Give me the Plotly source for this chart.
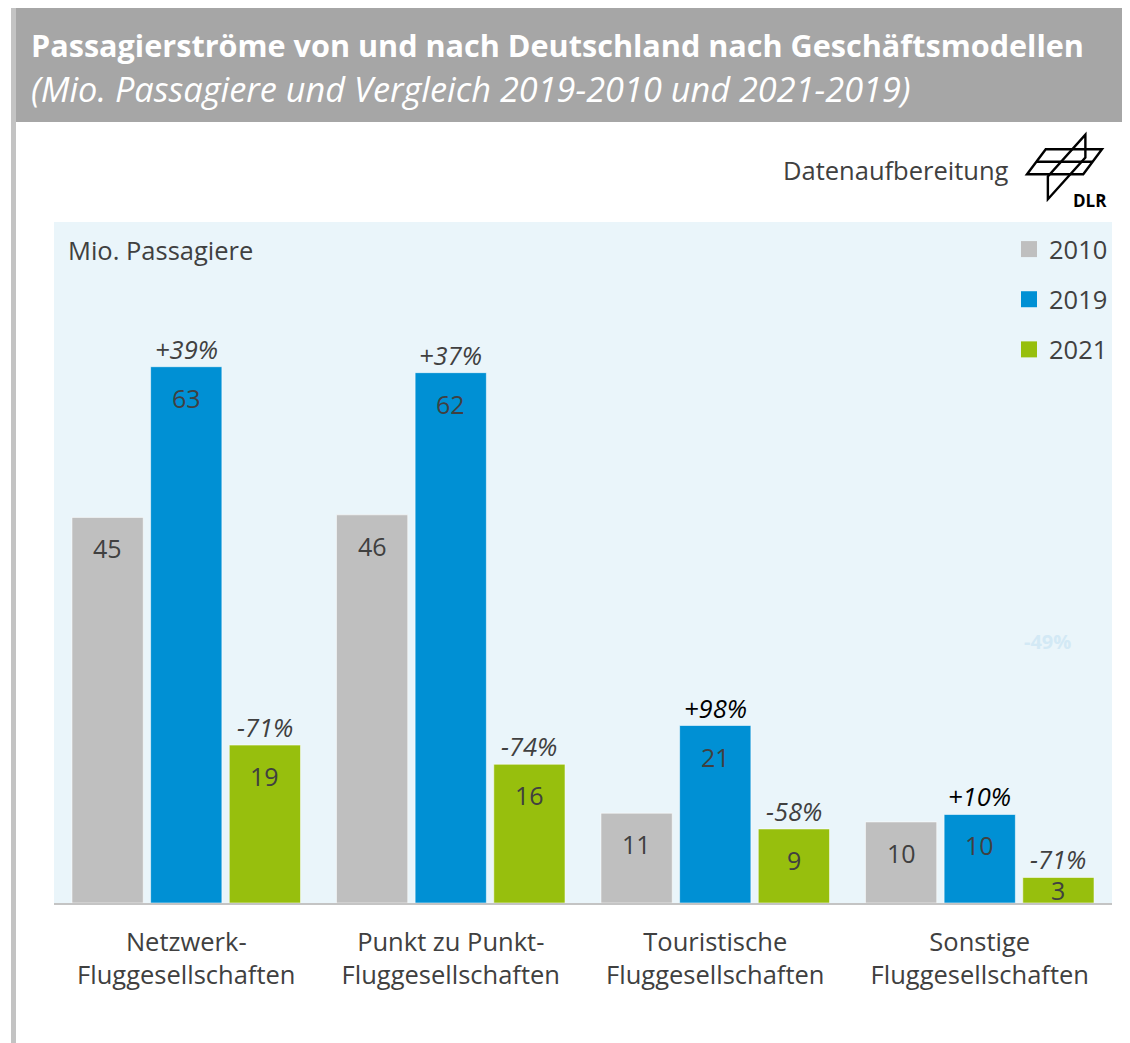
import plotly.graph_objects as go

# ---------------- data ----------------
categories = [
    "Netzwerk-<br>Fluggesellschaften",
    "Punkt zu Punkt-<br>Fluggesellschaften",
    "Touristische<br>Fluggesellschaften",
    "Sonstige<br>Fluggesellschaften",
]
years = ["2010", "2019", "2021"]
values_2010 = [45.3, 45.6, 10.55, 9.52]
values_2019 = [63.0, 62.3, 20.85, 10.4]
values_2021 = [18.55, 16.3, 8.7, 3.0]
change_2019_vs_2010 = ["+39%", "+37%", "+98%", "+10%"]
change_2021_vs_2019 = ["-71%", "-74%", "-58%", "-71%"]
faint_label = "-49%"

# ---------------- style ----------------
# the page body has an 8px margin, so the figure starts at screen (8, 8)
OFF = 8
W, H = 1130 - OFF, 1043 - OFF
FONT = "Open Sans, Lato, DejaVu Sans, sans-serif"
TXT = "#404040"
bar_colors = ["#bfbfbf", "#0090d4", "#97bf0d"]
pct_colors_2019 = ["#404040", "#404040", "#000000", "#000000"]
pct_colors_2021 = ["#404040", "#404040", "#404040", "#404040"]

PLOT_L, PLOT_R, PLOT_T, PLOT_B = 54, 1112, 222, 903   # screen pixels
Y_MAX = 80.0
BARGAP, BARGROUPGAP = 0.108, 0.094


def PX(x):
    return (x - OFF) / W


def PY(y):
    return 1 - (y - OFF) / H


series = [values_2010, values_2019, values_2021]

fig = go.Figure()
for yr, vals, col in zip(years, series, bar_colors):
    fig.add_trace(go.Bar(
        name=yr, x=categories, y=vals,
        marker=dict(color=col, line=dict(color="rgba(255,255,255,0.55)", width=1)),
        legendgroup=yr, showlegend=False, hoverinfo="x+y",
    ))
# legend entries (square swatches) for the three series
for yr, col in zip(years, bar_colors):
    fig.add_trace(go.Scatter(
        name=yr, x=[None], y=[None], mode="markers",
        marker=dict(symbol="square", size=17, color=col),
        legendgroup=yr, showlegend=True, hoverinfo="skip",
    ))

# pixel geometry derived from the axis settings
cat_w = (PLOT_R - PLOT_L) / len(categories)
slot = cat_w * (1 - BARGAP) / len(years)
px_per_unit = (PLOT_B - PLOT_T) / Y_MAX

annotations = []
for j, vals in enumerate(series):
    for i, v in enumerate(vals):
        h = v * px_per_unit
        annotations.append(dict(
            x=categories[i], y=v, xref="x", yref="y",
            xshift=(j - 1) * slot, yshift=-min(31, 0.5 * h),
            text=f"{v:.0f}", showarrow=False, yanchor="middle",
            font=dict(family=FONT, size=25, color=TXT),
        ))
for j, (vals, labels, cols) in enumerate([(values_2019, change_2019_vs_2010, pct_colors_2019),
                                          (values_2021, change_2021_vs_2019, pct_colors_2021)], start=1):
    for i, v in enumerate(vals):
        annotations.append(dict(
            x=categories[i], y=v, xref="x", yref="y",
            xshift=(j - 1) * slot, yshift=18,
            text=labels[i], showarrow=False, yanchor="middle",
            font=dict(family=FONT, size=25.5, color=cols[i], style="italic"),
        ))

# header texts
annotations += [
    dict(x=PX(29), y=PY(45), xref="paper", yref="paper", xanchor="left", yanchor="middle",
         text="<b>Passagierströme von und nach Deutschland nach Geschäftsmodellen</b>",
         showarrow=False, font=dict(family=FONT, size=30.6, color="white")),
    dict(x=PX(29), y=PY(88), xref="paper", yref="paper", xanchor="left", yanchor="middle",
         text="<i>(Mio. Passagiere und Vergleich 2019-2010 und 2021-2019)</i>",
         showarrow=False, font=dict(family=FONT, size=34.3, color="white")),
    dict(x=PX(1011), y=PY(170), xref="paper", yref="paper", xanchor="right", yanchor="middle",
         text="Datenaufbereitung", showarrow=False, font=dict(family=FONT, size=25.5, color=TXT)),
    dict(x=PX(1090), y=PY(201), xref="paper", yref="paper", xanchor="center", yanchor="middle",
         text="<b>DLR</b>", showarrow=False, font=dict(family=FONT, size=17, color="#000000")),
    dict(x=PX(66), y=PY(250), xref="paper", yref="paper", xanchor="left", yanchor="middle",
         text="Mio. Passagiere", showarrow=False, font=dict(family=FONT, size=25.5, color=TXT)),
    dict(x=PX(1047), y=PY(641), xref="paper", yref="paper", xanchor="center", yanchor="middle",
         text=f"<b>{faint_label}</b>", showarrow=False, font=dict(family=FONT, size=20, color="#d3e9f5")),
]

# DLR logo outline (screen px), scaled around a centre point
LC_X, LC_Y, LS = 1067, 168, 1.25


def path(points, close=False):
    pts = [(LC_X + (x - LC_X) * LS, LC_Y + (y - LC_Y) * LS) for x, y in points]
    s = "M " + " L ".join(f"{PX(x):.5f},{PY(y):.5f}" for x, y in pts)
    return s + (" Z" if close else "")


logo_line = dict(color="black", width=2.4)
shapes = [
    # frame
    dict(type="rect", xref="paper", yref="paper", x0=PX(11), x1=PX(16), y0=-0.01, y1=1.01,
         fillcolor="#c3c3c3", line=dict(width=0), layer="below"),
    dict(type="rect", xref="paper", yref="paper", x0=PX(16), x1=1.01, y0=PY(122), y1=1.01,
         fillcolor="#a6a6a6", line=dict(width=0), layer="below"),
    # DLR logo
    dict(type="path", xref="paper", yref="paper",
         path=path([(1035, 173), (1050, 153), (1095, 153), (1080, 173)], close=True), line=logo_line),
    dict(type="path", xref="paper", yref="paper",
         path=path([(1042.5, 163), (1087.5, 163)]), line=logo_line),
    dict(type="path", xref="paper", yref="paper",
         path=path([(1081.7, 141.3), (1081.7, 159.7), (1051.7, 193), (1051.7, 174.7)], close=True),
         line=logo_line),
]

fig.update_layout(
    width=W, height=H, autosize=False,
    margin=dict(l=0, r=0, t=0, b=0),
    paper_bgcolor="white", plot_bgcolor="#eaf5fa",
    barmode="group", bargap=BARGAP, bargroupgap=BARGROUPGAP,
    font=dict(family=FONT, color=TXT),
    showlegend=True,
    legend=dict(x=PX(1009), y=PY(226), xanchor="left", yanchor="top",
                bgcolor="rgba(0,0,0,0)", font=dict(family=FONT, size=25.5, color=TXT),
                traceorder="grouped", tracegroupgap=14, itemclick=False, itemdoubleclick=False),
    xaxis=dict(domain=[PX(PLOT_L), PX(PLOT_R)], showline=True, linecolor="#c4c4c4", linewidth=2,
               ticks="", showgrid=False, tickfont=dict(family=FONT, size=25.5, color=TXT),
               ticklabelstandoff=15, fixedrange=True),
    yaxis=dict(domain=[PY(PLOT_B), PY(PLOT_T)], range=[0, Y_MAX], showticklabels=False,
               showgrid=False, zeroline=False, ticks="", fixedrange=True),
    annotations=annotations, shapes=shapes,
)

fig.write_html("out.html")
